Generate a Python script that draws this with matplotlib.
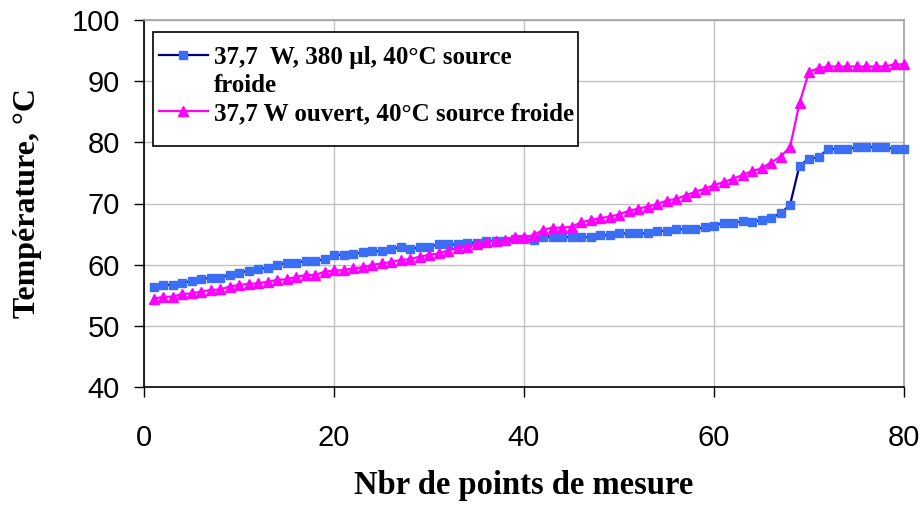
import matplotlib
matplotlib.use("Agg")
import matplotlib.pyplot as plt
from matplotlib.lines import Line2D
from matplotlib.patches import Rectangle

# ---- data ----
x_points = list(range(1, 81))

temp_380ul = [
    56.4, 56.7, 56.7, 57.05, 57.3, 57.6, 57.9, 57.9, 58.3, 58.7,
    59.0, 59.25, 59.5, 59.95, 60.3, 60.3, 60.6, 60.6, 60.9, 61.6,
    61.6, 61.75, 62.0, 62.2, 62.2, 62.5, 62.9, 62.5, 62.9, 62.95,
    63.3, 63.3, 63.3, 63.6, 63.6, 63.9, 63.9, 63.9, 64.15, 64.15,
    64.0, 64.5, 64.5, 64.5, 64.5, 64.5, 64.5, 64.8, 64.8, 65.1,
    65.1, 65.1, 65.1, 65.5, 65.5, 65.8, 65.8, 65.8, 66.15, 66.4,
    66.8, 66.8, 67.1, 67.0, 67.3, 67.6, 68.4, 69.75, 76.2, 77.3,
    77.55, 78.9, 78.9, 78.9, 79.2, 79.2, 79.2, 79.2, 78.9, 78.9,
]

temp_ouvert = [
    54.4, 54.75, 54.75, 55.2, 55.3, 55.6, 55.85, 55.95, 56.4, 56.7,
    56.85, 56.95, 57.2, 57.5, 57.6, 58.0, 58.3, 58.3, 58.85, 59.05,
    59.1, 59.4, 59.55, 59.95, 60.2, 60.45, 60.75, 60.9, 61.3, 61.6,
    61.85, 62.3, 62.7, 62.95, 63.3, 63.75, 63.9, 64.0, 64.6, 64.55,
    64.8, 65.7, 66.05, 66.05, 66.2, 66.9, 67.3, 67.6, 67.85, 68.2,
    68.8, 69.15, 69.5, 69.9, 70.45, 70.75, 71.3, 71.9, 72.4, 73.0,
    73.5, 74.05, 74.65, 75.3, 75.75, 76.7, 77.65, 79.2, 86.4, 91.55,
    92.1, 92.4, 92.4, 92.4, 92.4, 92.4, 92.4, 92.4, 92.75, 92.75,
]

label_380 = "37,7  W, 380 µl, 40°C source"
label_380_cont = "froide"
label_ouvert = "37,7 W ouvert, 40°C source froide"
x_label = "Nbr de points de mesure"
y_label = "Température, °C"
x_ticks = [0, 20, 40, 60, 80]
y_ticks = [40, 50, 60, 70, 80, 90, 100]

# ---- figure ----
W, H = 924, 507
fig = plt.figure(figsize=(W / 100, H / 100), dpi=100)
ax = fig.add_axes([144 / W, 1 - 387 / H, 760 / W, 367 / H])

ax.plot(x_points, temp_380ul, color="#000080", lw=1.6, marker="s",
        markersize=5.4, markerfacecolor="#3A6EF5", markeredgecolor="#3A6EF5",
        clip_on=False, zorder=3)
ax.plot(x_points, temp_ouvert, color="#FF00FF", lw=1.6, marker="^",
        markersize=7.0, markerfacecolor="#FF00FF", markeredgecolor="#FF00FF",
        clip_on=False, zorder=3)

ax.set_xlim(0, 80)
ax.set_ylim(40, 100)
ax.set_xticks(x_ticks)
ax.set_yticks(y_ticks)
ax.grid(True, color="#C0C0C0", lw=1.0)
ax.set_axisbelow(True)

for s in ("left", "bottom"):
    ax.spines[s].set_color("black")
    ax.spines[s].set_linewidth(1.2)
for s in ("top", "right"):
    ax.spines[s].set_color("#A0A0A0")
    ax.spines[s].set_linewidth(1.2)

ax.tick_params(axis="both", direction="out", length=7.5, width=1.0,
               labelsize=21)
ax.tick_params(axis="y", pad=10)
ax.tick_params(axis="x", pad=19)
for lab in ax.get_xticklabels() + ax.get_yticklabels():
    lab.set_family("Liberation Sans")

serif = {"family": "Liberation Serif", "weight": "bold"}
ax.set_xlabel(x_label, fontsize=23.5, labelpad=13, **serif)
ax.set_ylabel(y_label, fontsize=23, labelpad=21, **serif)

# legend frame
fig.patches.append(Rectangle((153 / W, 1 - 146 / H), 425 / W, 114 / H,
                             transform=fig.transFigure, facecolor="white",
                             edgecolor="black", lw=1.2, zorder=4))

handles = [
    Line2D([], [], color="#000080", lw=1.6, marker="s", markersize=5.4,
           markerfacecolor="#3A6EF5", markeredgecolor="#3A6EF5"),
    Line2D([], [], color="none", lw=0),
    Line2D([], [], color="#FF00FF", lw=1.6, marker="^", markersize=7.0,
           markerfacecolor="#FF00FF", markeredgecolor="#FF00FF"),
]
leg = fig.legend(handles, [label_380, label_380_cont, label_ouvert],
                 loc="upper left", bbox_to_anchor=(159 / W, 1 - 46 / H),
                 bbox_transform=fig.transFigure,
                 prop={"family": "Liberation Serif", "weight": "bold", "size": 18},
                 frameon=False, handlelength=1.95, handletextpad=0.25,
                 labelspacing=0.2, borderpad=0, borderaxespad=0)
leg.set_zorder(5)

fig.savefig("out.png", dpi=100)
